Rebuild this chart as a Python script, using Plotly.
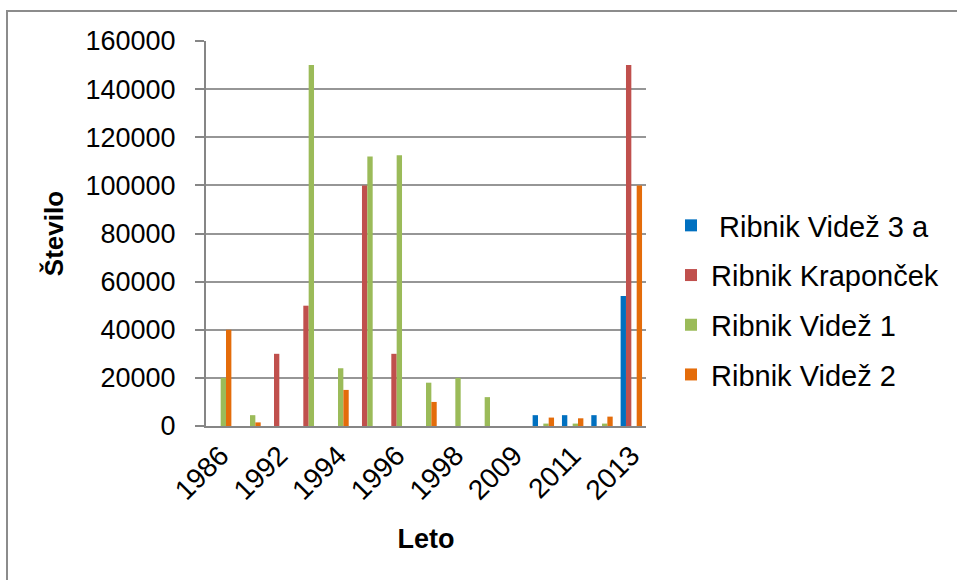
import plotly.graph_objects as go

# Years on the category axis (only every other one is labelled)
years = ["1986", "1991", "1992", "1993", "1994", "1995", "1996", "1997",
         "1998", "1999", "2009", "2010", "2011", "2012", "2013"]
tick_years = ["1986", "1992", "1994", "1996", "1998", "2009", "2011", "2013"]

videz_3a =    [0, 0, 0, 0, 0, 0, 0, 0, 0, 0, 0, 4500, 4500, 4500, 54000]
kraponcek =   [0, 0, 30000, 50000, 0, 100000, 30000, 0, 0, 0, 0, 0, 0, 0, 150000]
videz_1 =     [20000, 4500, 0, 150000, 24000, 112000, 112500, 18000, 20000, 12000, 0, 1000, 1000, 1000, 0]
videz_2 =     [40000, 1500, 0, 0, 15000, 0, 0, 10000, 0, 0, 0, 3500, 3200, 3900, 100000]

y_ticks = [0, 20000, 40000, 60000, 80000, 100000, 120000, 140000, 160000]

series = [
    ("\u00a0Ribnik Videž 3 a", videz_3a, "#0070C0"),
    ("Ribnik Kraponček", kraponcek, "#C0504D"),
    ("Ribnik Videž 1", videz_1, "#9BBB59"),
    ("Ribnik Videž 2", videz_2, "#E46C0A"),
]

fig = go.Figure()
for i, (name, vals, color) in enumerate(series):
    fig.add_trace(go.Bar(
        x=years, y=vals, name=name, marker_color=color,
        marker_line_width=0, legendgroup=f"g{i}",
    ))

FONT = "Liberation Sans, Arial, sans-serif"
L, R, T, B = 206, 311, 41, 154
W, H = 957, 580
pw, ph = W - L - R, H - T - B


def px_x(px):
    return (px - L) / pw


def px_y(py):
    return (H - B - py) / ph


fig.update_layout(
    width=W, height=H,
    margin=dict(l=L, r=R, t=T, b=B),
    paper_bgcolor="white", plot_bgcolor="white",
    barmode="group", bargap=0.27, bargroupgap=0,
    font=dict(family=FONT, color="black", size=27),
    showlegend=True,
    legend=dict(
        x=px_x(671), y=px_y(300), xanchor="left", yanchor="middle",
        font=dict(family=FONT, size=29, color="black"),
        traceorder="grouped", tracegroupgap=9,
        bgcolor="rgba(0,0,0,0)", itemclick=False,
    ),
    xaxis=dict(
        type="category", categoryorder="array", categoryarray=years,
        tickmode="array", tickvals=tick_years, ticktext=tick_years,
        tickangle=-45, tickfont=dict(size=28),
        showline=True, linecolor="#868686", linewidth=2,
        showgrid=False, ticks="",
        title=dict(text="<b>Leto</b>", font=dict(size=27), standoff=24),
    ),
    yaxis=dict(
        range=[0, 160000], tickmode="array", tickvals=y_ticks,
        ticktext=[str(v) for v in y_ticks],
        tickfont=dict(size=27),
        showline=True, linecolor="#868686", linewidth=2,
        showgrid=True, gridcolor="#969696", gridwidth=2,
        ticks="outside", ticklen=9, tickcolor="#868686", tickwidth=2,
        ticklabelstandoff=14, zeroline=False,
        title=dict(text="<b>Število</b>", font=dict(size=26), standoff=14),
    ),
)

# Thin frame around the chart area
fig.add_shape(
    type="rect", xref="paper", yref="paper",
    x0=px_x(7), x1=px_x(1000), y0=px_y(620), y1=px_y(11),
    line=dict(color="#8C8C8C", width=2), fillcolor="rgba(0,0,0,0)",
    layer="below",
)

fig.write_html("out.html")
